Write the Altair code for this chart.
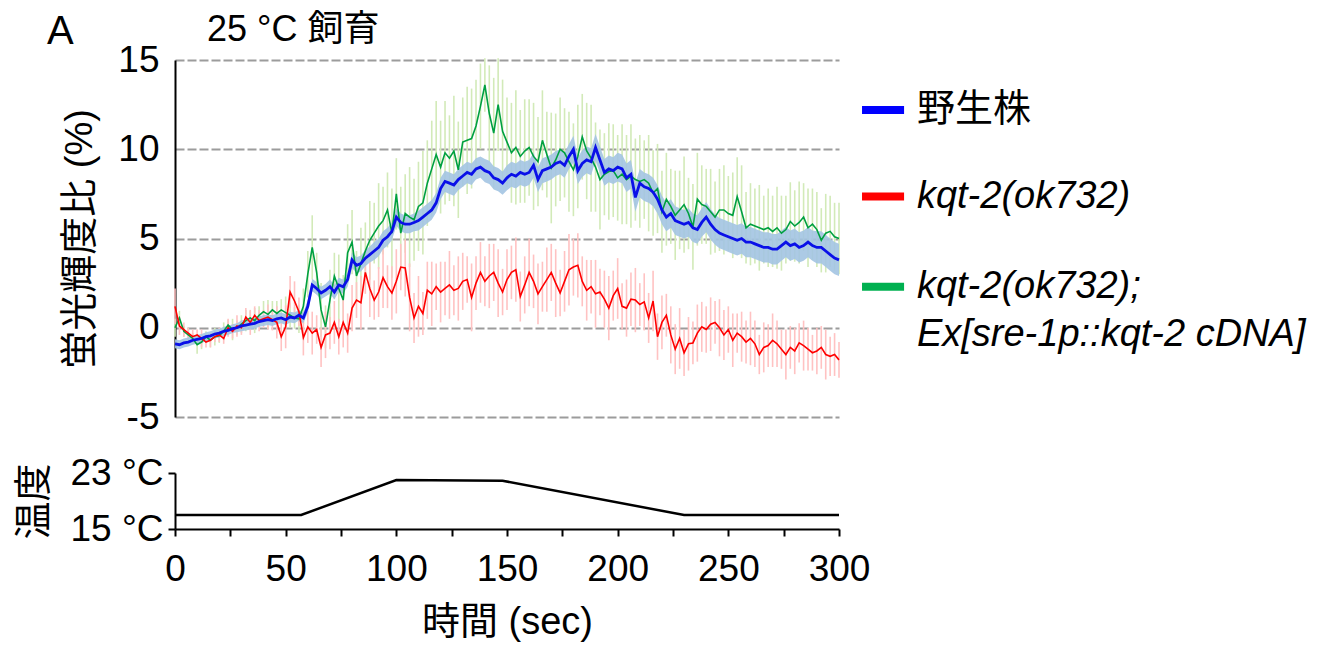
import altair as alt
import pandas as pd

FONT = "Liberation Sans, Arial, Noto Sans CJK JP, sans-serif"

# ---------------- data ----------------
time_s = list(range(0, 301, 2))

wild_type = [
    -0.9, -0.95, -0.85, -0.8, -0.7, -0.65, -0.6, -0.5, -0.45, -0.35,
    -0.3, -0.2, -0.15, -0.05, 0.0, 0.1, 0.15, 0.2, 0.25, 0.35,
    0.4, 0.45, 0.4, 0.5, 0.55, 0.45, 0.6, 0.55, 0.7, 0.55,
    1.2, 2.4, 2.2, 1.95, 2.1, 2.3, 2.0, 2.4, 2.3, 2.7,
    3.8, 3.5, 3.6, 3.9, 4.1, 4.3, 4.5, 4.9, 5.1, 5.4,
    6.2, 5.9, 5.8, 5.8, 5.9, 6.0, 6.2, 6.4, 6.6, 7.0,
    7.8, 8.2, 8.1, 8.0, 8.3, 8.5, 8.7, 8.6, 8.9, 9.0,
    8.8, 8.7, 8.4, 8.3, 8.1, 8.4, 8.6, 8.5, 8.7, 8.6,
    8.7, 9.1, 8.3, 8.8, 8.9, 9.0, 9.2, 9.3, 9.1, 9.6,
    10.0, 8.8, 9.2, 9.4, 9.3, 10.1, 9.4, 8.7, 8.9, 8.8,
    9.0, 8.9, 8.4, 8.6, 7.3, 8.1, 7.9, 7.8, 7.6, 7.2,
    6.6, 6.2, 6.4, 6.0, 5.9, 5.8, 5.9, 5.6, 5.5, 5.9,
    6.2, 5.8, 5.5, 5.3, 5.2, 5.1, 5.0, 4.9, 5.0, 4.8,
    4.8, 4.7, 4.6, 4.5, 4.5, 4.4, 4.4, 4.6, 4.8, 4.6,
    4.7, 4.5, 4.6, 4.8, 4.6, 4.5, 4.5, 4.3, 4.1, 3.9,
    3.8,
]

kqt2 = [
    1.2, 0.1, -0.1, -0.3, -0.5, -0.4, -0.6, -0.8, -0.7, -0.5,
    -0.4, -0.6, 0.0, -0.2, 0.1, 0.0, 0.6, 0.3, 0.7, 0.4,
    0.5, 0.6, 0.45, 0.3, -0.5, 0.05, 2.0, 1.5, 0.9, -0.55,
    0.05, -0.3, -0.1, -1.1, -0.4, -0.3, 0.3, -0.5, 0.3, -0.3,
    1.1, 1.55, 1.4, 3.1, 2.2, 1.55, 2.0, 2.8, 2.3, 1.95,
    2.6, 3.4, 3.35, 1.7, 0.55, 1.2, 0.8, 2.1, 1.9, 2.3,
    2.0, 2.2, 2.4, 2.1, 2.2, 2.6, 2.7, 1.7, 2.5, 3.1,
    2.6, 2.9, 3.1, 2.5, 2.0, 2.7, 3.1, 3.25, 1.75, 2.4,
    3.1, 2.6, 1.9, 2.3, 2.7, 3.1, 2.5, 1.95, 2.6, 3.25,
    3.4, 3.5, 2.6, 2.1, 2.3, 1.9, 2.0, 1.6, 1.1, 1.8,
    2.2, 1.2, 1.1, 1.6, 1.55, 1.3, 1.45, 0.55, 1.5, -0.5,
    0.3, 0.7, -0.4, -1.2, -0.6, -1.4, -0.9, -0.85, -0.3, 0.05,
    -0.1, 0.2, 0.3, 0.0, -0.4, -0.1, -0.7, -0.3, -0.5, -0.8,
    -0.6, -0.9, -1.5, -1.1, -1.0, -0.7, -0.9, -1.2, -1.5, -1.1,
    -1.3, -0.85, -1.0, -1.2, -1.4, -1.3, -1.1, -1.5, -1.6, -1.5,
    -1.8,
]

rescue = [
    0.0, 0.55, -0.2, -0.4, -0.6, -0.95, -0.8, -0.5, -0.7, -0.5,
    -0.45, -0.2, 0.15, -0.1, 0.0, 0.2, 0.4, 0.55, 0.4, 0.7,
    0.9, 0.75, 1.0, 0.8, 1.0, 0.85, 0.7, 0.55, 0.5, 1.2,
    3.0, 4.5, 3.1, 1.0, 0.05, 1.55, 2.9, 2.2, 1.55, 4.2,
    4.8, 2.9, 3.6, 4.3, 4.9, 5.3, 5.7, 6.0, 6.6, 5.3,
    7.5, 5.3, 6.4, 6.2, 6.05, 6.8, 7.0, 8.1, 8.9, 9.7,
    9.0, 9.8, 9.5, 9.9, 8.85, 10.4, 10.5, 10.6, 11.3, 12.4,
    13.6, 12.0, 10.9, 12.5, 11.0, 10.4, 9.8, 10.1, 9.6, 9.9,
    10.1, 9.6, 9.3, 10.5, 9.7, 8.95, 9.4, 10.0, 9.8, 9.3,
    8.85, 9.6, 10.7, 9.9, 9.5, 9.0, 8.3, 8.6, 8.75, 8.8,
    8.4, 8.6, 8.3, 8.5, 8.3, 8.2, 8.3, 8.1, 7.55, 7.8,
    6.5, 7.2, 6.8, 6.3, 6.6, 6.9, 6.4, 5.65, 7.2, 6.9,
    6.8, 6.5, 6.2, 6.6, 6.6, 6.4, 6.3, 7.35, 6.5, 5.6,
    5.8, 5.7, 5.6, 5.5, 5.6, 5.4, 5.6, 5.3, 5.5, 5.95,
    5.7, 5.9, 6.2, 5.6, 5.8, 5.5, 4.9, 5.3, 5.4, 5.1,
    5.0,
]

kqt2_sem = [
    1.0, 0.5, 0.4, 0.3, 0.4, 0.3, 0.5, 0.3, 0.4, 0.3,
    0.4, 0.3, 0.5, 0.4, 0.6, 0.4, 0.5, 0.7, 0.5, 0.6,
    0.5, 0.7, 0.6, 0.9, 0.8, 1.2, 0.9, 1.1, 0.8, 1.0,
    0.9, 1.2, 0.8, 1.1, 1.3, 0.9, 1.2, 1.0, 1.4, 1.1,
    1.3, 1.0, 1.5, 1.2, 1.6, 1.1, 1.4, 1.7, 1.2, 1.5,
    1.8, 1.3, 1.6, 1.9, 1.4, 1.7, 1.2, 1.6, 1.8, 1.3,
    1.7, 1.5, 1.9, 1.4, 1.8, 1.6, 1.3, 1.9, 1.5, 1.7,
    1.4, 1.8, 1.6, 1.9, 1.3, 1.7, 1.5, 1.8, 1.4, 1.6,
    1.9, 1.5, 1.7, 1.4, 1.8, 1.6, 1.9, 1.3, 1.7, 2.0,
    1.6, 1.8, 1.4, 1.7, 1.5, 1.9, 1.3, 1.6, 1.8, 1.4,
    1.7, 1.3, 1.6, 1.5, 1.8, 1.2, 1.6, 1.4, 1.7, 1.3,
    1.5, 1.2, 1.6, 1.4, 1.7, 1.3, 1.5, 1.2, 1.6, 1.4,
    1.3, 1.5, 1.2, 1.6, 1.4, 1.3, 1.5, 1.1, 1.4, 1.2,
    1.5, 1.3, 1.1, 1.4, 1.2, 1.5, 1.3, 1.1, 1.4, 1.2,
    1.3, 1.1, 1.4, 1.2, 1.0, 1.3, 1.2, 1.4, 1.1, 1.2,
    1.0,
]

rescue_sem = [
    0.5, 0.4, 0.3, 0.4, 0.3, 0.5, 0.4, 0.3, 0.4, 0.5,
    0.4, 0.5, 0.3, 0.6, 0.4, 0.5, 0.6, 0.4, 0.7, 0.5,
    0.6, 0.8, 0.5, 0.7, 0.6, 0.9, 0.7, 0.6, 0.8, 1.0,
    1.3, 1.8, 1.1, 1.5, 1.2, 1.7, 1.3, 1.9, 1.4, 1.6,
    1.8, 1.4, 2.0, 1.6, 2.2, 1.7, 2.4, 1.9, 2.1, 2.5,
    2.0, 2.6, 2.2, 2.8, 2.3, 2.5, 2.9, 2.4, 2.7, 3.0,
    2.6, 2.9, 2.4, 3.1, 2.7, 2.5, 3.0, 2.8, 2.6, 2.4,
    1.5, 2.7, 3.1, 2.6, 2.9, 2.5, 2.8, 3.2, 2.6, 2.9,
    2.7, 3.0, 2.5, 2.8, 2.4, 3.1, 2.6, 2.9, 2.5, 2.8,
    2.6, 2.9, 2.4, 2.7, 3.0, 2.5, 2.8, 2.3, 2.7, 2.6,
    2.4, 2.8, 2.5, 2.9, 2.3, 2.6, 2.2, 2.7, 2.4, 2.5,
    2.3, 2.6, 2.1, 2.5, 2.2, 2.7, 2.0, 2.4, 2.6, 2.2,
    2.1, 2.4, 2.0, 2.3, 2.5, 2.1, 2.4, 2.2, 2.6, 2.0,
    2.3, 2.1, 2.4, 1.9, 2.2, 2.0, 2.3, 2.1, 1.9, 2.2,
    2.0, 2.3, 1.9, 2.2, 2.0, 2.1, 1.8, 2.2, 2.0, 1.9,
    2.0,
]

# wild-type SEM, one value per 10 s (0, 10, ..., 300)
wild_type_sem_10s = [
    0.25, 0.25, 0.25, 0.3, 0.3, 0.3, 0.35, 0.4, 0.45, 0.5,
    0.5, 0.55, 0.6, 0.6, 0.65, 0.7, 0.7, 0.7, 0.75, 0.75,
    0.8, 0.8, 0.8, 0.8, 0.85, 0.85, 0.85, 0.85, 0.85, 0.9,
    0.9,
]

temp_time = [0, 57, 100, 148, 230, 300]
temp_c = [17, 17, 22, 21.9, 17, 17]

legend_labels = ["野生株", "kqt-2(ok732)", "kqt-2(ok732);", "Ex[sre-1p::kqt-2 cDNA]"]
legend_colors = ["#0000ff", "#ff0000", "#00b050"]

# ---------------- tables ----------------
def series_table(vals, sems):
    return pd.DataFrame({
        "t": time_s,
        "v": vals,
        "lo": [v - s for v, s in zip(vals, sems)],
        "hi": [v + s for v, s in zip(vals, sems)],
    })

wt_sem = [wild_type_sem_10s[i // 5] for i in range(len(time_s))]
df_wt = series_table(wild_type, wt_sem)
df_kqt = series_table(kqt2, kqt2_sem)
df_res = series_table(rescue, rescue_sem)
df_temp = pd.DataFrame({"t": temp_time, "temp": temp_c})

# legend layout (data units of the main panel)
df_leg_sw = pd.DataFrame({
    "lx": [310.4] * 3, "lx2": [329.4] * 3,
    "ly": [12.2, 7.35, 2.3], "c": legend_colors,
})
df_leg_txt = pd.DataFrame({
    "lx": [335.2] * 4, "ly": [12.2, 7.35, 2.3, -0.4],
    "label": legend_labels, "it": [0, 1, 1, 1],
})

# ---------------- scales / axes ----------------
XS = alt.Scale(domain=[0, 300], nice=False)
YS = alt.Scale(domain=[-5, 15], nice=False)
YTITLE = "蛍光輝度比 (%)"
YAX = alt.Axis(values=[-5, 0, 5, 10, 15], labelExpr="datum.value + ''",
               grid=True, gridDash=[9, 3], gridColor="#9c9c9c", gridWidth=2,
               ticks=False, labelPadding=16, titlePadding=18)

def X(f):
    return alt.X(f, type="quantitative", scale=XS, axis=None)

def Y(f):
    return alt.Y(f, type="quantitative", scale=YS, axis=YAX, title=YTITLE)

err_g = alt.Chart(df_res).mark_rule(color="#d2eab8", strokeWidth=1.6).encode(
    x=X("t"), y=Y("lo"), y2="hi")
err_r = alt.Chart(df_kqt).mark_rule(color="#ffc2c2", strokeWidth=1.6).encode(
    x=X("t"), y=Y("lo"), y2="hi")
band_b = alt.Chart(df_wt).mark_area(color="#a3c4e2", opacity=0.9).encode(
    x=X("t"), y=Y("lo"), y2="hi")
line_g = alt.Chart(df_res).mark_line(color="#00a040", strokeWidth=1.6).encode(
    x=X("t"), y=Y("v"))
line_r = alt.Chart(df_kqt).mark_line(color="#ff0000", strokeWidth=1.6).encode(
    x=X("t"), y=Y("v"))
line_b = alt.Chart(df_wt).mark_line(color="#0a10e8", strokeWidth=2.8).encode(
    x=X("t"), y=Y("v"))

leg_sw = alt.Chart(df_leg_sw).mark_rule(strokeWidth=8).encode(
    x=X("lx"), x2="lx2", y=Y("ly"), color=alt.Color("c:N", scale=None))
leg_txt_n = alt.Chart(df_leg_txt).transform_filter("datum.it == 0").mark_text(
    align="left", baseline="middle", fontSize=38, font=FONT, color="black").encode(
    x=X("lx"), y=Y("ly"), text="label:N")
leg_txt_i = alt.Chart(df_leg_txt).transform_filter("datum.it == 1").mark_text(
    align="left", baseline="middle", fontSize=38, font=FONT, fontStyle="italic",
    color="black").encode(x=X("lx"), y=Y("ly"), text="label:N")

hdr_a = alt.Chart(pd.DataFrame({"k": [0]})).mark_text(
    text="A", align="left", baseline="middle", fontSize=40, font=FONT,
    color="black").encode(x=alt.value(-128), y=alt.value(-28))
hdr_t = alt.Chart(pd.DataFrame({"k": [0]})).mark_text(
    text="25 °C 飼育", align="left", baseline="middle", fontSize=36, font=FONT,
    color="black").encode(x=alt.value(32), y=alt.value(-30))

main = alt.layer(err_g, err_r, band_b, line_g, line_r, line_b,
                 leg_sw, leg_txt_n, leg_txt_i, hdr_a, hdr_t).properties(
    width=664, height=357)

temp = alt.Chart(df_temp).mark_line(color="black", strokeWidth=2.5).encode(
    x=alt.X("t:Q", scale=XS, title="時間 (sec)",
            axis=alt.Axis(values=list(range(0, 301, 25)),
                          labelExpr="datum.value % 50 == 0 ? datum.value + '' : ''",
                          tickSize=7, labelPadding=15, titlePadding=16,
                          labelOverlap=False, grid=False, labelFlush=False)),
    y=alt.Y("temp:Q", scale=alt.Scale(domain=[15, 23], nice=False), title="温度",
            axis=alt.Axis(values=[15, 23], labelExpr="datum.value + ' °C'",
                          tickSize=7, labelPadding=5, titlePadding=17, grid=False)),
).properties(width=664, height=56)

chart = alt.vconcat(main, temp, spacing=56, bounds="flush",
                    padding={"left": 7, "top": 4, "right": 5, "bottom": 5}).configure(
    font=FONT).configure_axis(
    domainColor="black", domainWidth=2, tickColor="black", tickWidth=2,
    labelColor="black", titleColor="black", labelFont=FONT, titleFont=FONT,
    labelFontSize=37, titleFontSize=38, titleFontWeight="normal").configure_view(
    stroke=None)

chart.save("out.html", embed_options={"renderer": "svg", "actions": False})
